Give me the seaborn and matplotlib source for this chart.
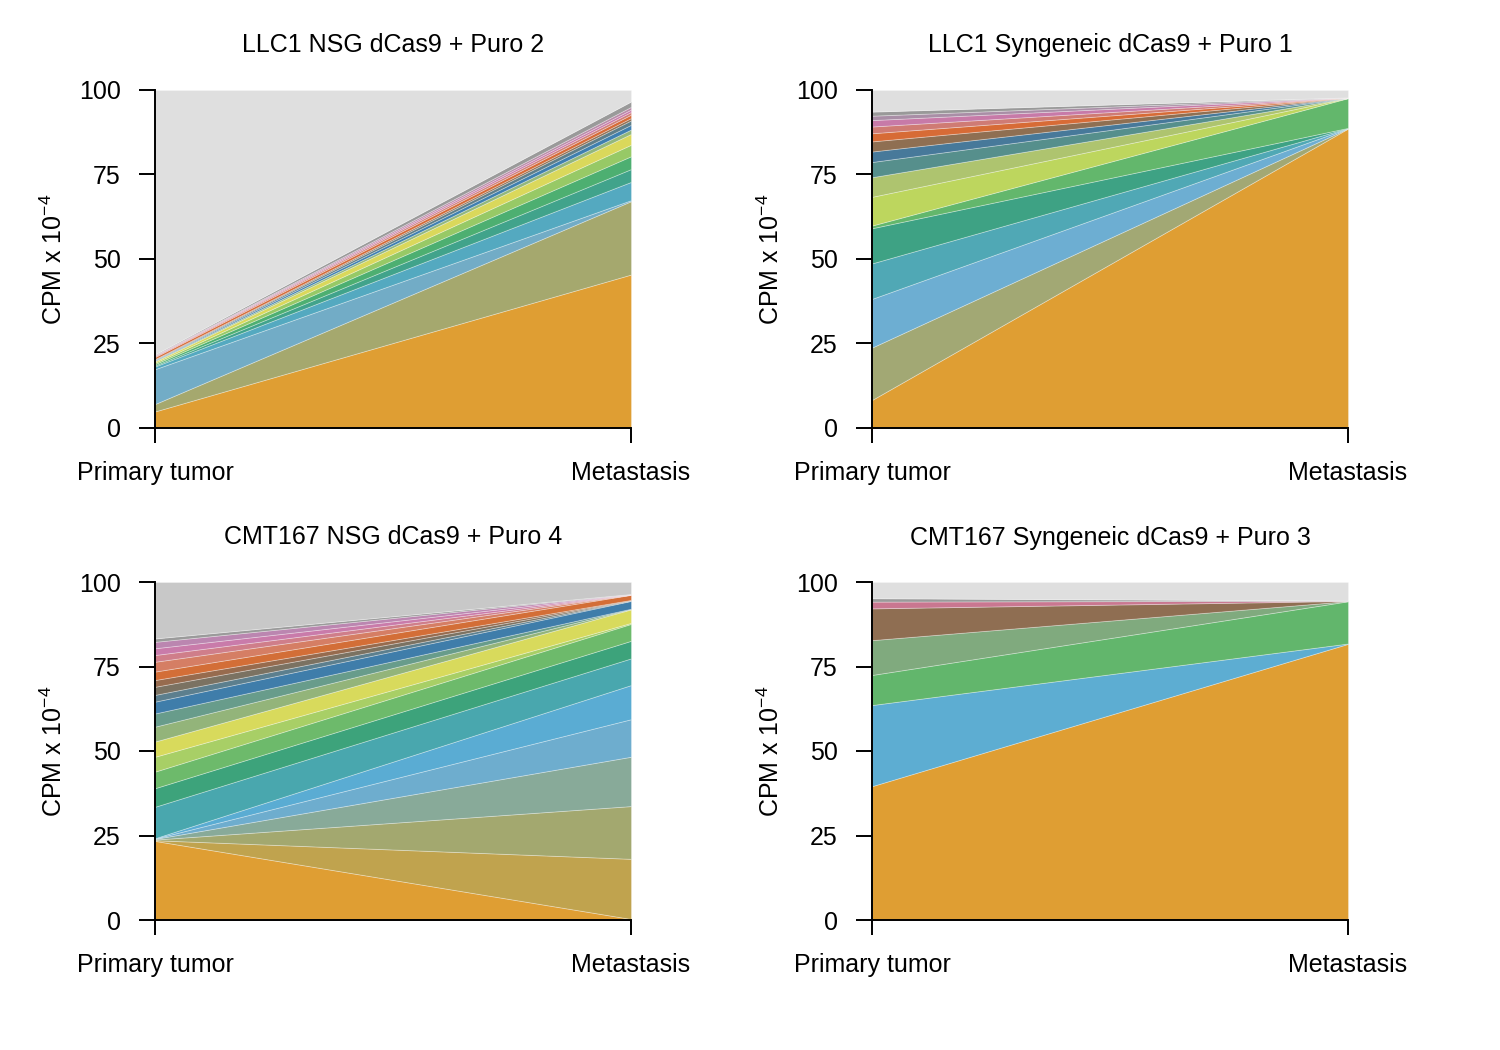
import numpy as np
import matplotlib
matplotlib.use("Agg")
import matplotlib.pyplot as plt
import seaborn as sns

# ---------------- data ----------------
stages = ["Primary tumor", "Metastasis"]
titles = ["LLC1 NSG dCas9 + Puro 2", "LLC1 Syngeneic dCas9 + Puro 1",
          "CMT167 NSG dCas9 + Puro 4", "CMT167 Syngeneic dCas9 + Puro 3"]
yticks = [0, 25, 50, 75, 100]

# Panel 1: LLC1 NSG
llc1_nsg_colors = ["#DF9E33", "#A5A86E", "#72ACC6", "#54A9C0", "#41A38B", "#4DAF71",
                   "#97C966", "#DAD85B", "#93B77C", "#3E7FB0", "#5E7E89", "#8F6F52",
                   "#D66B38", "#D07F78", "#C97AAA", "#B98BA8", "#9A9A9A"]
llc1_nsg_primary = [4.9, 2.2, 10.3, 0.8, 0.3, 0.4, 0.4, 0.4, 0.2, 0.2, 0.15, 0.15,
                    0.6, 0.25, 0.2, 0.15, 0.2]
llc1_nsg_metastasis = [45.4, 21.7, 0.3, 5.4, 3.8, 3.8, 3.4, 3.2, 1.3, 1.4, 1.3, 0.7,
                       1.0, 0.8, 0.7, 0.8, 1.6]

# Panel 2: LLC1 Syngeneic
llc1_syn_colors = ["#DF9E33", "#A2A874", "#6DAED2", "#50A8B5", "#3EA284", "#63B76C",
                   "#BDD65E", "#AEC46F", "#568F8C", "#47799A", "#8F6F52", "#D76B36",
                   "#CF7B74", "#C77AA8", "#A98EA6", "#999999"]
llc1_syn_primary = [8.3, 15.5, 14.4, 10.5, 10.4, 0.8, 8.5, 5.8, 4.5, 3.1, 3.0, 2.4,
                    2.0, 1.9, 1.3, 1.2]
llc1_syn_metastasis = [88.6, 0.05, 0.05, 0.05, 0.05, 8.8, 0.02, 0.02, 0.02, 0.02,
                       0.02, 0.02, 0.02, 0.02, 0.02, 0.02]

# Panel 3: CMT167 NSG
cmt_nsg_colors = ["#DF9E33", "#C0A34E", "#A3A86F", "#88AA99", "#6EADCE", "#5AACD3",
                  "#49A7AE", "#3DA37B", "#6DBA6B", "#A8CF66", "#D8DA5C", "#93B47A",
                  "#689C8B", "#3F7DAA", "#5C7F8E", "#7B7262", "#976B4E", "#D36E37",
                  "#D57E64", "#CF7E8A", "#C97BAA", "#BB86B0", "#9A9A9A"]
cmt_nsg_primary = [23.4, 0.2, 0.2, 0.2, 0.1, 0.1, 9.3, 5.5, 4.9, 4.4, 4.5, 4.4,
                   3.9, 3.5, 2.0, 2.4, 2.0, 2.5, 2.9, 2.0, 2.0, 1.9, 1.0]
cmt_nsg_metastasis = [0.3, 17.8, 15.6, 14.6, 11.1, 10.1, 7.9, 5.2, 5.0, 0.3, 4.0, 0.1,
                      0.1, 2.3, 0.1, 0.1, 0.1, 1.5, 0.05, 0.05, 0.05, 0.05, 0.05]

# Panel 4: CMT167 Syngeneic
cmt_syn_colors = ["#DF9E33", "#5DADD2", "#62B66C", "#80AA7E", "#8F6E52", "#C97790", "#9A9A9A"]
cmt_syn_primary = [39.6, 24.0, 8.9, 10.3, 9.4, 2.0, 1.0]
cmt_syn_metastasis = [81.7, 0.1, 12.5, 0.05, 0.05, 0.05, 0.05]

other_colors = ["#DFDFDF", "#DFDFDF", "#C8C8C8", "#DFDFDF"]

panels = [
    (llc1_nsg_colors, llc1_nsg_primary, llc1_nsg_metastasis),
    (llc1_syn_colors, llc1_syn_primary, llc1_syn_metastasis),
    (cmt_nsg_colors, cmt_nsg_primary, cmt_nsg_metastasis),
    (cmt_syn_colors, cmt_syn_primary, cmt_syn_metastasis),
]

# ---------------- style ----------------
sns.set_theme(style="ticks")
FONT = ["Liberation Sans", "DejaVu Sans"]
plt.rcParams["font.family"] = FONT
plt.rcParams["mathtext.fontset"] = "custom"
plt.rcParams["mathtext.rm"] = "Liberation Sans"
plt.rcParams["axes.edgecolor"] = "black"
plt.rcParams["xtick.color"] = "black"
plt.rcParams["ytick.color"] = "black"
plt.rcParams["text.color"] = "black"
plt.rcParams["axes.labelcolor"] = "black"
plt.rcParams["axes.titlecolor"] = "black"
FS = 18

fig = plt.figure(figsize=(15, 10.5), dpi=100)
W = 476 / 1500
H = 338 / 1050
lefts = [155 / 1500, 872 / 1500]
bottoms = [1 - 428 / 1050, 1 - 920 / 1050]

x = np.arange(len(stages))
for i, (colors, prim, meta) in enumerate(panels):
    r, c = divmod(i, 2)
    ax = fig.add_axes([lefts[c], bottoms[r], W, H])
    layers = [[p, m] for p, m in zip(prim, meta)]
    other = [100 - sum(prim), 100 - sum(meta)]
    layers.append(other)
    cols = list(colors) + [other_colors[i]]
    ax.stackplot(x, np.array(layers), colors=cols,
                 edgecolor=(1, 1, 1, 0.35), linewidth=0.6)
    ax.set_xlim(0, 1)
    ax.set_ylim(0, 100)
    ax.set_xticks(x)
    ax.set_xticklabels(stages, fontsize=FS)
    ax.set_yticks(yticks)
    ax.set_yticklabels([str(t) for t in yticks], fontsize=FS)
    ax.tick_params(axis="y", length=11.5, width=1.4, pad=13, direction="out")
    ax.tick_params(axis="x", length=11, width=1.4, pad=13, direction="out")
    sns.despine(ax=ax)
    for s in ["left", "bottom"]:
        ax.spines[s].set_linewidth(1.4)
        ax.spines[s].set_color("black")
    ax.set_title(titles[i], fontsize=FS, pad=27)
    ax.set_ylabel(r"CPM x 10$^{\mathregular{-4}}$", fontsize=FS)
    ax.yaxis.set_label_coords(-0.185, 0.5)
    ax.grid(False)

fig.savefig("out.png", dpi=100, facecolor="white")
